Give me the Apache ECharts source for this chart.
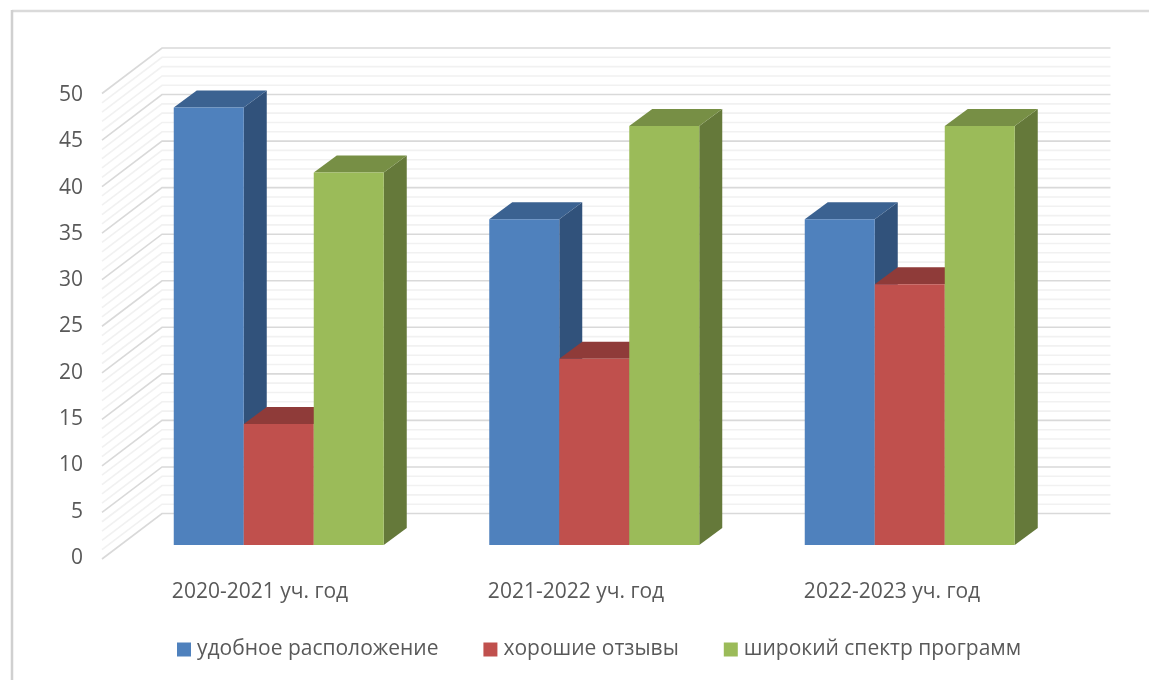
<!DOCTYPE html>
<html>
<head>
<meta charset="utf-8">
<style>html,body{margin:0;padding:0;background:#fff}#c{width:1149px;height:680px}</style>
<script src="https://cdn.jsdelivr.net/npm/echarts@6/dist/echarts.min.js"></script>
</head>
<body>
<div id="c"></div>
<script>
const categories = ['2020-2021 уч. год', '2021-2022 уч. год', '2022-2023 уч. год'];
const convenient = [47, 35, 35];
const reviews = [13, 20, 28];
const programs = [40, 45, 45];
const wallTicks = [];
for (let v = 0; v <= 50; v++) wallTicks.push(v);

const FONT = '"Open Sans", "Noto Sans", sans-serif';
const TEXT = '#595959';
const BAR_W = 70, DX = 23, DY = -17;

function barSeries(name, values, index, front, top, side) {
  return {
    name, type: 'custom', xAxisIndex: 1, yAxisIndex: 1, z: 5 + index,
    itemStyle: { color: front },
    data: values.map((v, i) => [i, v]),
    encode: { x: 0, y: 1 },
    renderItem(params, api) {
      const cat = api.value(0), val = api.value(1);
      const c = api.coord([cat, val]), b = api.coord([cat, 0]);
      const x = c[0] + (index - 1.5) * BAR_W, r = x + BAR_W, t = c[1], y0 = b[1];
      return { type: 'group', children: [
        { type: 'polygon', shape: { points: [[r, t], [r + DX, t + DY], [r + DX, y0 + DY], [r, y0]] }, style: { fill: side } },
        { type: 'polygon', shape: { points: [[x, t], [x + DX, t + DY], [r + DX, t + DY], [r, t]] }, style: { fill: top } },
        { type: 'rect', shape: { x, y: t, width: BAR_W, height: y0 - t }, style: { fill: front } }
      ] };
    }
  };
}

const chart = echarts.init(document.getElementById('c'), null, { renderer: 'canvas' });
chart.setOption({
  animation: false,
  backgroundColor: '#fff',
  textStyle: { fontFamily: FONT },
  graphic: [
    { type: 'line', silent: true, shape: { x1: 12, y1: 11, x2: 1149, y2: 11 }, style: { stroke: '#DADADA', lineWidth: 2.5 } },
    { type: 'line', silent: true, shape: { x1: 12, y1: 10, x2: 12, y2: 680 }, style: { stroke: '#D0D0D0', lineWidth: 2.5 } }
  ],
  legend: {
    left: 172, top: 634, itemWidth: 14, itemHeight: 14, itemGap: 45, icon: 'rect',
    textStyle: { color: TEXT, fontSize: 21, fontFamily: FONT, padding: [0, 0, 0, 1] },
    data: ['удобное расположение', 'хорошие отзывы', 'широкий спектр программ']
  },
  grid: [
    { left: 102, width: 948, top: 95, height: 463 },
    { left: 121, width: 946.5, top: 79.5, height: 465.5 }
  ],
  xAxis: [
    { type: 'category', gridIndex: 0, data: categories,
      axisLine: { show: false }, axisTick: { show: false }, splitLine: { show: false },
      axisLabel: { color: TEXT, fontSize: 21, fontFamily: FONT, margin: 24 } },
    { type: 'category', gridIndex: 1, data: categories, show: false }
  ],
  yAxis: [
    { type: 'value', gridIndex: 0, min: 0, max: 50, interval: 5,
      axisLine: { show: false }, axisTick: { show: false }, splitLine: { show: false },
      axisLabel: { color: TEXT, fontSize: 21, fontFamily: FONT, margin: 19 } },
    { type: 'value', gridIndex: 1, min: 0, max: 50, interval: 5, show: false, splitLine: { show: false } }
  ],
  series: [
    {
      type: 'custom', name: 'wall', xAxisIndex: 1, yAxisIndex: 1, z: 1, silent: true,
      data: wallTicks.map(v => [0, v]),
      encode: { x: 0, y: 1 },
      renderItem(params, api) {
        const v = api.value(1);
        const p = api.coord([0, v]);
        const band = api.size([1, 0])[0];
        const left = p[0] - band / 2, right = left + 3 * band;
        const major = v % 5 === 0;
        return {
          type: 'polyline',
          shape: { points: [[left - 19, p[1] + 14], [left + 41, p[1] - 31.5], [right + 43, p[1] - 31.5]] },
          style: { fill: null, stroke: major ? '#D9D9D9' : '#F1F1F1', lineWidth: 1.6 },
          z2: major ? 2 : 1
        };
      }
    },
    barSeries('удобное расположение', convenient, 0, '#4F81BD', '#3B6291', '#31527B'),
    barSeries('хорошие отзывы', reviews, 1, '#C0504D', '#8F3B39', '#7C3230'),
    barSeries('широкий спектр программ', programs, 2, '#9BBB59', '#778F45', '#65793A')
  ]
});
</script>
</body>
</html>
